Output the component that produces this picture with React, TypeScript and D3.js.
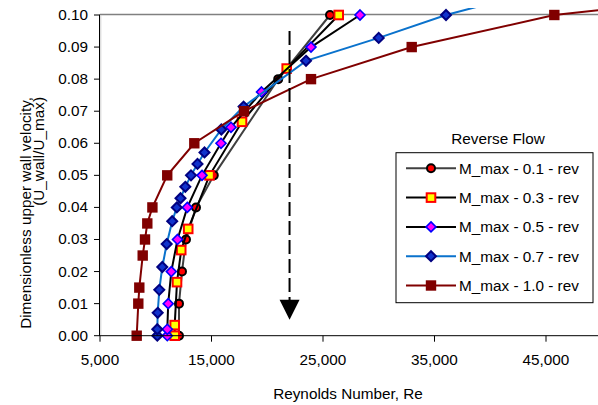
import React from "react";
import * as d3 from "d3";

// ---- data ----
const yM01 = [0, 0.01, 0.02, 0.03, 0.04, 0.05, 0.08, 0.1];
const reM01 = [12085, 12085, 12354, 12713, 13610, 15206, 20983, 25628];

const yM03 = [0, 0.0033, 0.0167, 0.0267, 0.0333, 0.05, 0.0667, 0.0833, 0.1];
const reM03 = [11700, 11700, 11906, 12283, 12911, 14821, 17736, 21745, 26409];

const yM05 = [0, 0.002, 0.01, 0.02, 0.03, 0.04, 0.05, 0.06, 0.065, 0.076, 0.09, 0.1];
const reM05 = [11036, 11036, 11117, 11395, 11951, 12830, 14148, 15852, 16749, 19485, 23924, 28319];

const yM07 = [0, 0.002, 0.00714, 0.01429, 0.02143, 0.02857, 0.03571, 0.04, 0.04286, 0.04643, 0.05, 0.05357, 0.05714, 0.06429, 0.07143, 0.08571, 0.09286, 0.1, 0.10714];
const reM07 = [10139, 10139, 10175, 10318, 10587, 10982, 11476, 11888, 12220, 12650, 13162, 13745, 14373, 15880, 17880, 23476, 29997, 36033, 43800];

const yM10 = [0, 0.01, 0.015, 0.025, 0.03, 0.035, 0.04, 0.05, 0.06, 0.07, 0.08, 0.09, 0.1, 0.11];
const reM10 = [8291, 8435, 8525, 8830, 9036, 9242, 9700, 11030, 13458, 17915, 23925, 32956, 45746, 71700];

const seriesNames = [
  "M_max - 0.1 - rev",
  "M_max - 0.3 - rev",
  "M_max - 0.5 - rev",
  "M_max - 0.7 - rev",
  "M_max - 1.0 - rev",
];

const xTicks = [5000, 15000, 25000, 35000, 45000];
const yTicks = [0, 0.01, 0.02, 0.03, 0.04, 0.05, 0.06, 0.07, 0.08, 0.09, 0.1];

const arrowRe = 22000;
const arrowTop = 0.095;
const arrowBottom = 0.005;

const legendTitle = "Reverse Flow";
const xTitle = "Reynolds Number, Re";
const yTitle1 = "Dimensionless upper wall velocity,";
const yTitle2 = "(U_wall/U_max)";

// ---- styles ----
type MarkerType = "circle" | "square" | "diamond" | "bigsquare" | "navydiamond";
const styles: { line: string; marker: MarkerType; fill: string; stroke: string }[] = [
  { line: "#404040", marker: "circle", fill: "#FF0000", stroke: "#000000" },
  { line: "#000000", marker: "square", fill: "#FFFF00", stroke: "#FF0000" },
  { line: "#000000", marker: "diamond", fill: "#FF00FF", stroke: "#0000FF" },
  { line: "#0A72CC", marker: "navydiamond", fill: "#1133CC", stroke: "#000080" },
  { line: "#800000", marker: "bigsquare", fill: "#800000", stroke: "#800000" },
];

const FONT = "'Liberation Sans', Arial, sans-serif";
const FS = 15.3;

function Marker({ type, x, y, fill, stroke }: { type: MarkerType; x: number; y: number; fill: string; stroke: string }) {
  if (type === "circle") return <circle cx={x} cy={y} r={4} fill={fill} stroke={stroke} strokeWidth={2} />;
  if (type === "square") return <rect x={x - 4.3} y={y - 4.3} width={8.6} height={8.6} fill={fill} stroke={stroke} strokeWidth={2} />;
  if (type === "bigsquare") return <rect x={x - 5.2} y={y - 5.2} width={10.4} height={10.4} fill={fill} />;
  const r = 5;
  return (
    <path
      d={`M${x},${y - r}L${x + r},${y}L${x},${y + r}L${x - r},${y}Z`}
      fill={fill}
      stroke={stroke}
      strokeWidth={type === "navydiamond" ? 2 : 1.6}
    />
  );
}

export default function App() {
  const W = 598, H = 405;
  const x = d3.scaleLinear().domain([5000, 50000]).range([100, 601.75]);
  const y = d3.scaleLinear().domain([0, 0.1]).range([335.7, 15]);

  const allRe = [reM01, reM03, reM05, reM07, reM10];
  const allY = [yM01, yM03, yM05, yM07, yM10];

  const line = d3
    .line<[number, number]>()
    .x((d) => x(d[0]))
    .y((d) => y(d[1]));

  const data = allRe.map((res, i) => res.map((r, j) => [r, allY[i][j]] as [number, number]));

  const fmt = d3.format(",");
  const legX = 396, legY = 152.7, legW = 197, legH = 150;
  const legRow0 = 168.3, legStep = 29.3;

  return (
    <svg
      width={W}
      height={H}
      style={{ position: "absolute", left: 0, top: 0, background: "#fff" }}
      fontFamily={FONT}
    >
      <defs>
        <clipPath id="clip">
          <rect x={100} y={8} width={500} height={340} />
        </clipPath>
      </defs>
      <rect x={0} y={0} width={W} height={H} fill="#fff" />
      {/* plot border top */}
      <line x1={100} x2={W} y1={14.5} y2={14.5} stroke="#808080" strokeWidth={1.5} />
      <line x1={100.8} x2={100.8} y1={15} y2={335} stroke="#d0d0d0" strokeWidth={1} />

      {/* series */}
      <g clipPath="url(#clip)">
        {data.map((pts, i) => (
          <g key={i}>
            <path d={line(pts) || ""} fill="none" stroke={styles[i].line} strokeWidth={2} />
            {pts.map((p, j) => (
              <Marker key={j} type={styles[i].marker} x={x(p[0])} y={y(p[1])} fill={styles[i].fill} stroke={styles[i].stroke} />
            ))}
          </g>
        ))}
      </g>

      {/* axes */}
      <line x1={99.5} x2={99.5} y1={14.5} y2={336} stroke="#000" strokeWidth={1} />
      <line x1={99.5} x2={W} y1={335.7} y2={335.7} stroke="#000" strokeWidth={1} />
      {yTicks.map((t) => (
        <g key={t}>
          <line x1={94} x2={99.5} y1={y(t)} y2={y(t)} stroke="#000" />
          <text x={88} y={y(t) + 5} textAnchor="end" fontSize={FS} fill="#000">
            {t.toFixed(2)}
          </text>
        </g>
      ))}
      {xTicks.map((t) => (
        <g key={t}>
          <line x1={x(t)} x2={x(t)} y1={335.7} y2={341.7} stroke="#000" />
          <text x={x(t)} y={365} textAnchor="middle" fontSize={FS} fill="#000">
            {fmt(t)}
          </text>
        </g>
      ))}

      {/* titles */}
      <text x={348} y={398.5} textAnchor="middle" fontSize={FS} fill="#000">
        {xTitle}
      </text>
      <text transform="translate(31,97) rotate(-90)" textAnchor="end" fontSize={FS} fill="#000">
        {yTitle1}
      </text>
      <text transform="translate(44,97) rotate(-90)" textAnchor="end" fontSize={FS} fill="#000">
        {yTitle2}
      </text>

      {/* dashed arrow */}
      <line
        x1={x(arrowRe)}
        x2={x(arrowRe)}
        y1={y(arrowTop)}
        y2={y(arrowBottom) - 18}
        stroke="#000"
        strokeWidth={2}
        strokeDasharray="14,5"
      />
      <path
        d={`M${x(arrowRe) - 10},${y(arrowBottom) - 20}L${x(arrowRe) + 10},${y(arrowBottom) - 20}L${x(arrowRe)},${y(arrowBottom)}Z`}
        fill="#000"
      />

      {/* legend */}
      <text x={498} y={144} textAnchor="middle" fontSize={FS} fill="#000">
        {legendTitle}
      </text>
      <rect x={legX} y={legY} width={legW} height={legH} fill="#fff" stroke="#000" strokeWidth={1} />
      {seriesNames.map((name, i) => {
        const cy = legRow0 + i * legStep;
        return (
          <g key={name}>
            <line x1={406} x2={456} y1={cy} y2={cy} stroke={styles[i].line} strokeWidth={2} />
            <Marker type={styles[i].marker} x={431} y={cy} fill={styles[i].fill} stroke={styles[i].stroke} />
            <text x={459} y={cy + 5.5} fontSize={FS} fill="#000">
              {name}
            </text>
          </g>
        );
      })}
    </svg>
  );
}
